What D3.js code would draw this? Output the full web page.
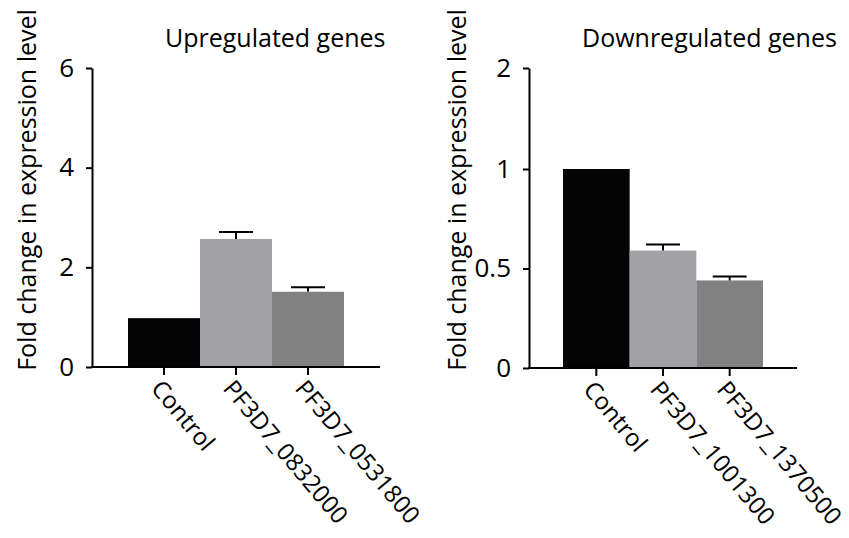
<html lang="en">
<head>
    <meta charset="UTF-8">
    <title>Fold change in expression level</title>
    <script src="https://cdnjs.cloudflare.com/ajax/libs/d3/7.8.5/d3.min.js"></script>
    <style type="text/css">
        body { margin: 0; background: #fff; }
        * { font-family: "Open Sans", sans-serif; }
    </style>
</head>
<body>
    <div id="onlydiv"></div>
    <script type="text/javascript">

        // Data
        var upCategories = ["Control", "PF3D7_0832000", "PF3D7_0531800"];
        var upValues = [0.98, 2.57, 1.51];
        var upErrors = [0, 0.14, 0.09];
        var upTicks = [0, 2, 4, 6];

        var downCategories = ["Control", "PF3D7_1001300", "PF3D7_1370500"];
        var downValues = [1.0, 0.59, 0.44];
        var downErrors = [0, 0.03, 0.02];
        var downTicks = [0, 0.5, 1, 2];

        var barColors = ["#040404", "#a2a2a6", "#808180"];

        var w = 849;
        var h = 538;

        var svg = d3.select("#onlydiv")
        .append("svg")
        .attr("width", w)
        .attr("height", h);

        function drawPanel(opt) {
            var g = svg.append("g");

            var yScale = d3.scaleLinear()
            .domain(opt.yDomain)
            .range(opt.yRange);

            var xScale = d3.scaleBand()
            .domain(opt.categories)
            .range(opt.barRange)
            .padding(0);

            var data = opt.categories.map(function(c, i) {
                return {cat: c, value: opt.values[i], err: opt.errors[i], color: barColors[i]};
            });

            var y0 = yScale(0);

            // bars
            g.selectAll("rect.bar")
            .data(data)
            .enter()
            .append("rect")
            .attr("class", "bar")
            .attr("x", function(d) {return xScale(d.cat);})
            .attr("width", xScale.bandwidth())
            .attr("y", function(d) {return yScale(d.value);})
            .attr("height", function(d) {return y0 - yScale(d.value);})
            .attr("fill", function(d) {return d.color;});

            // error bars (upper only)
            var errs = data.filter(function(d) {return d.err > 0;});
            var capHalf = 17;
            g.selectAll("line.errv")
            .data(errs)
            .enter()
            .append("line")
            .attr("x1", function(d) {return xScale(d.cat) + xScale.bandwidth() / 2;})
            .attr("x2", function(d) {return xScale(d.cat) + xScale.bandwidth() / 2;})
            .attr("y1", function(d) {return yScale(d.value);})
            .attr("y2", function(d) {return yScale(d.value + d.err);})
            .attr("stroke", "#000")
            .attr("stroke-width", 2);
            g.selectAll("line.errc")
            .data(errs)
            .enter()
            .append("line")
            .attr("x1", function(d) {return xScale(d.cat) + xScale.bandwidth() / 2 - capHalf;})
            .attr("x2", function(d) {return xScale(d.cat) + xScale.bandwidth() / 2 + capHalf;})
            .attr("y1", function(d) {return yScale(d.value + d.err);})
            .attr("y2", function(d) {return yScale(d.value + d.err);})
            .attr("stroke", "#000")
            .attr("stroke-width", 2);

            // y axis
            var yAxis = d3.axisLeft()
            .scale(yScale)
            .tickValues(opt.ticks)
            .tickFormat(function(d) {return String(d);})
            .tickSize(6)
            .tickSizeOuter(0)
            .tickPadding(12);

            var ya = g.append("g")
            .attr("transform", "translate(" + opt.axisX + ",0)")
            .call(yAxis);
            ya.select(".domain").attr("stroke-width", 2);
            ya.selectAll(".tick line").attr("stroke-width", 2);
            ya.selectAll("text")
            .attr("font-size", "26px")
            .attr("fill", "#000");

            // x axis
            g.append("line")
            .attr("x1", opt.axisX - 1)
            .attr("x2", opt.axisEnd)
            .attr("y1", y0)
            .attr("y2", y0)
            .attr("stroke", "#000")
            .attr("stroke-width", 2);

            var xAxis = d3.axisBottom()
            .scale(xScale)
            .tickSize(8)
            .tickSizeOuter(0);

            var xa = g.append("g")
            .attr("transform", "translate(0," + y0 + ")")
            .call(xAxis);
            xa.select(".domain").remove();
            xa.selectAll(".tick line").attr("stroke-width", 2);
            xa.selectAll("text")
            .attr("font-size", "24px")
            .attr("fill", "#000")
            .attr("text-anchor", "start")
            .attr("x", 0)
            .attr("y", 0)
            .attr("dy", "0")
            .attr("transform", "translate(-14,22) rotate(50)");

            // title
            g.append("text")
            .attr("x", opt.titleX)
            .attr("y", 47)
            .attr("font-size", "25px")
            .text(opt.title);

            // y label
            g.append("text")
            .attr("text-anchor", "middle")
            .attr("font-size", "25px")
            .attr("transform", "translate(" + opt.labelX + "," + 190 + ") rotate(-90)")
            .text("Fold change in expression level");
        }

        drawPanel({
            categories: upCategories, values: upValues, errors: upErrors, ticks: upTicks,
            yDomain: [0, 6], yRange: [367, 68],
            barRange: [128, 344], axisX: 92, axisEnd: 380,
            title: "Upregulated genes", titleX: 165, labelX: 36
        });

        drawPanel({
            categories: downCategories, values: downValues, errors: downErrors, ticks: downTicks,
            yDomain: [0, 1, 2], yRange: [368, 169, 68],
            barRange: [563, 763], axisX: 529, axisEnd: 797,
            title: "Downregulated genes", titleX: 582, labelX: 466
        });

    </script>
</body>
</html>
